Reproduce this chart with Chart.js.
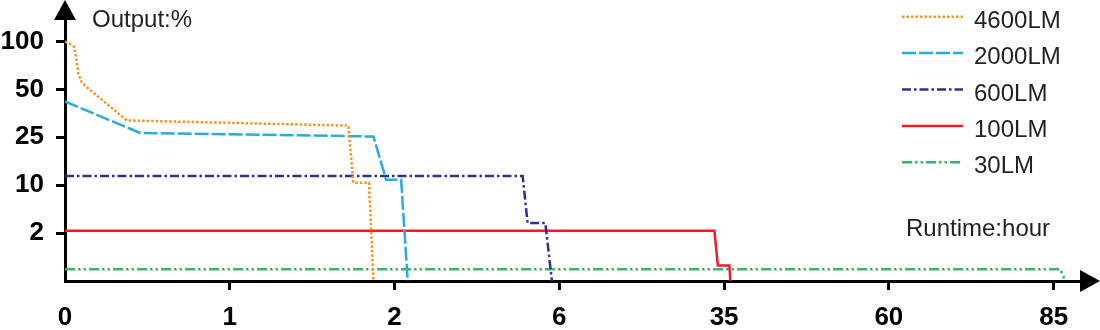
<!DOCTYPE html>
<html>
<head>
<meta charset="utf-8">
<script src="https://cdn.jsdelivr.net/npm/chart.js"></script>
<style>
  html, body { margin: 0; padding: 0; background: #fff; }
</style>
</head>
<body>
<canvas id="runtimeChart" width="1100" height="330"></canvas>
<script>
// labelled axis values - every labelled value sits one equal step further along
const xTickValues = [0, 1, 2, 6, 35, 60, 85];
const yTickValues = [0, 2, 10, 25, 50, 100];

const seriesNames = ['4600LM', '2000LM', '600LM', '100LM', '30LM'];

// runtime (hours) and output (%)
const hours4600 = [0, 0.03, 0.055, 0.067, 0.081, 0.101, 0.132, 0.375, 1.72, 1.75, 1.845, 1.872];
const output4600 = [100, 97.6, 94.7, 84, 66.6, 57.7, 52.4, 33.8, 31.1, 10.8, 10.8, 0];

const hours2000 = [0, 0.455, 1.872, 1.949, 2.16, 2.32];
const output2000 = [43.7, 27.3, 25.4, 11.7, 11.7, 0];

const hours600 = [0, 5.11, 5.23, 5.66, 5.82];
const output600 = [12.9, 12.9, 3.7, 3.7, 0];

const hours100 = [0, 33.3, 33.9, 35.8, 35.95];
const output100 = [2.4, 2.4, 0.65, 0.65, 0];

const hours30 = [0, 86.0, 86.8];
const output30 = [0.49, 0.49, 0];

// piecewise position on the broken axis
function toAxis(v, breaks) {
    for (let i = 1; i < breaks.length; i++) {
        if (v <= breaks[i]) return i - 1 + (v - breaks[i - 1]) / (breaks[i] - breaks[i - 1]);
    }
    const n = breaks.length - 1;
    return n + (v - breaks[n]) / (breaks[n] - breaks[n - 1]);
}

function points(hours, output) {
    return hours.map((h, i) => ({ x: toAxis(h, xTickValues), y: toAxis(output[i], yTickValues) }));
}

const styles = [
    { color: '#f7941d', dash: [2.5, 2] },
    { color: '#29abe2', dash: [14, 3] },
    { color: '#2e3192', dash: [9, 3, 2.5, 3] },
    { color: '#ed1c24', dash: [] },
    { color: '#3ab26c', dash: [10, 3, 2.5, 3, 2.5, 3] }
];
const seriesData = [
    points(hours4600, output4600),
    points(hours2000, output2000),
    points(hours600, output600),
    points(hours100, output100),
    points(hours30, output30)
];

const textFont = '24px "Liberation Sans", Arial, sans-serif';

// arrows, axis titles and the legend
const decorations = {
    id: 'decorations',
    afterDraw(chart) {
        const ctx = chart.ctx;
        const area = chart.chartArea;
        ctx.save();
        ctx.fillStyle = '#000';
        ctx.beginPath();
        ctx.moveTo(area.left, 0);
        ctx.lineTo(area.left - 11, 20);
        ctx.lineTo(area.left + 11, 20);
        ctx.closePath();
        ctx.fill();
        ctx.beginPath();
        ctx.moveTo(1100, area.bottom);
        ctx.lineTo(area.right, area.bottom - 11);
        ctx.lineTo(area.right, area.bottom + 11);
        ctx.closePath();
        ctx.fill();

        ctx.fillStyle = '#231f20';
        ctx.font = textFont;
        ctx.textBaseline = 'alphabetic';
        ctx.textAlign = 'left';
        ctx.fillText('Output:%', 92, 26.5);
        ctx.fillText('Runtime:hour', 906, 236);

        chart.data.datasets.forEach((ds, i) => {
            const y = 16.7 + i * 36.4;
            ctx.strokeStyle = ds.borderColor;
            ctx.lineWidth = ds.borderWidth;
            ctx.setLineDash(ds.borderDash);
            ctx.beginPath();
            ctx.moveTo(902, y);
            ctx.lineTo(963, y);
            ctx.stroke();
            ctx.setLineDash([]);
            ctx.fillText(ds.label, 974, y + 11);
        });
        ctx.restore();
    }
};

const tickFont = { family: '"Liberation Sans", Arial, sans-serif', size: 26, weight: 'bold' };

new Chart(document.getElementById('runtimeChart'), {
    type: 'line',
    data: {
        datasets: seriesNames.map((name, i) => ({
            label: name,
            data: seriesData[i],
            borderColor: styles[i].color,
            borderDash: styles[i].dash,
            borderWidth: 2.5,
            pointRadius: 0,
            tension: 0,
            fill: false,
            clip: false
        }))
    },
    options: {
        responsive: false,
        animation: false,
        devicePixelRatio: 1,
        layout: { padding: { top: 19, right: 20, left: 0, bottom: 0 } },
        plugins: {
            legend: { display: false },
            tooltip: { enabled: false }
        },
        scales: {
            x: {
                type: 'linear',
                min: 0,
                max: 6.16,
                afterBuildTicks: s => { s.ticks = xTickValues.map((v, i) => ({ value: i })); },
                afterFit: s => { s.height = 49; s.paddingLeft = 0; s.paddingRight = 0; },
                ticks: {
                    callback: (v, i) => xTickValues[i],
                    font: tickFont,
                    color: '#000',
                    padding: 12,
                    maxRotation: 0,
                    autoSkip: false
                },
                grid: {
                    drawOnChartArea: false,
                    tickLength: 9,
                    lineWidth: 3,
                    color: c => (c.tick && c.tick.value === 0) ? 'rgba(0,0,0,0)' : '#000'
                },
                border: { color: '#000', width: 3 }
            },
            y: {
                type: 'linear',
                min: 0,
                max: 5.47,
                afterBuildTicks: s => { s.ticks = yTickValues.slice(1).map((v, i) => ({ value: i + 1 })); },
                afterFit: s => { s.width = 65; s.paddingTop = 0; s.paddingBottom = 0; },
                ticks: {
                    callback: (v, i) => yTickValues[i + 1],
                    font: tickFont,
                    color: '#000',
                    padding: 12,
                    autoSkip: false
                },
                grid: {
                    drawOnChartArea: false,
                    tickLength: 9,
                    lineWidth: 3,
                    color: '#000'
                },
                border: { color: '#000', width: 3 }
            }
        }
    },
    plugins: [decorations]
});
</script>
</body>
</html>
